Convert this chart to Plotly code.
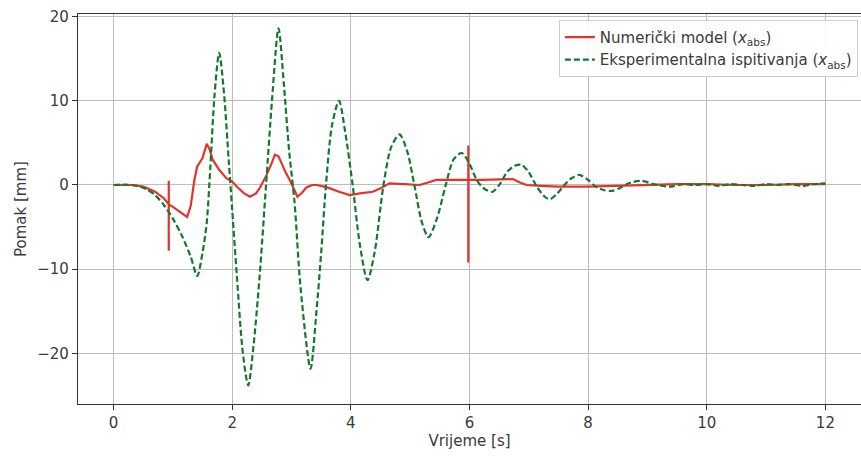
import plotly.graph_objects as go

# Numerical model (red)
t_num = [0, 0.3, 0.5, 0.7, 0.85, 0.93, 0.93, 0.93, 0.93, 1.0, 1.1, 1.24, 1.3, 1.36, 1.41, 1.5, 1.57, 1.62,
         1.67, 1.78, 1.9, 2.0, 2.08, 2.2, 2.3, 2.4, 2.47, 2.58, 2.66, 2.72, 2.78, 2.83, 2.9, 2.97, 3.05,
         3.1, 3.18, 3.25, 3.35, 3.42, 3.55, 3.65, 3.8, 3.98, 4.15, 4.37, 4.5, 4.65, 4.9, 5.16, 5.3, 5.44,
         5.7, 5.98, 5.98, 5.98, 5.98, 6.2, 6.5, 6.73, 6.85, 6.96, 7.2, 7.5, 8.0, 8.5, 9.0, 9.5, 10.0,
         10.5, 11.0, 11.5, 12.0]
y_num = [0, 0, -0.2, -0.8, -1.6, -2.3, 0.5, -7.8, -2.3, -2.6, -3.1, -3.8, -2.5, 0.5, 2.2, 3.2, 4.9, 4.2,
         3.0, 1.8, 0.8, 0.4, -0.2, -1.0, -1.4, -1.0, -0.3, 1.2, 2.5, 3.6, 3.4, 2.6, 1.5, 0.6, -0.6,
         -1.4, -0.9, -0.3, 0.0, 0.0, -0.2, -0.4, -0.8, -1.2, -1.0, -0.8, -0.4, 0.2, 0.1, 0.0, 0.3, 0.6,
         0.6, 0.6, 4.7, -9.2, 0.6, 0.6, 0.7, 0.7, 0.3, 0.0, -0.1, -0.2, -0.2, -0.1, 0.0, 0.1, 0.1,
         0.0, 0.0, 0.1, 0.1]

# Experimental (green, dashed)
t_exp = [0, 0.2, 0.4, 0.55, 0.7, 0.85, 1.0, 1.15, 1.3, 1.41, 1.5, 1.57, 1.63, 1.7, 1.78, 1.86, 1.94,
         2.0, 2.08, 2.18, 2.27, 2.36, 2.46, 2.57, 2.67, 2.78, 2.87, 2.96, 3.05, 3.15, 3.32, 3.42, 3.5,
         3.58, 3.68, 3.8, 3.9, 4.03, 4.15, 4.28, 4.4, 4.55, 4.68, 4.82, 4.95, 5.07, 5.2, 5.31, 5.45,
         5.6, 5.73, 5.87, 6.0, 6.13, 6.26, 6.39, 6.52, 6.64, 6.77, 6.88, 7.0, 7.12, 7.24, 7.35, 7.48,
         7.6, 7.72, 7.85, 8.0, 8.13, 8.26, 8.41, 8.55, 8.68, 8.9, 9.1, 9.37, 9.6, 9.8, 10.0, 10.2,
         10.4, 10.6, 10.8, 11.0, 11.2, 11.4, 11.6, 11.8, 12.0]
y_exp = [0, 0.05, -0.1, -0.5, -1.2, -2.4, -4.0, -6.0, -8.5, -10.8, -8.0, -4.5, 2.0, 10.5, 15.7, 11.0, 3.0,
         -3.0, -11.0, -20.0, -23.8, -19.0, -11.0, 0.0, 10.0, 18.6, 12.0, 4.0, -2.0, -12.0, -21.8, -15.0, -8.0,
         0.0, 7.0, 10.0, 6.5, 0.0, -7.0, -11.3, -8.0, 0.0, 4.5, 6.0, 4.0, 0.0, -4.5, -6.2, -4.0,
         0.0, 3.0, 3.8, 2.5, 0.5, -0.5, -0.8, 0.2, 1.6, 2.3, 2.4, 1.5, 0.0, -1.2, -1.7, -1.0,
         0.0, 0.8, 1.2, 0.6, -0.2, -0.6, -0.7, -0.3, 0.2, 0.5, 0.1, -0.2, 0.1, 0.0, 0.1, -0.1,
         0.1, 0.0, -0.1, 0.1, 0.0, 0.1, -0.1, 0.1, 0.2]

x_ticks = [0, 2, 4, 6, 8, 10, 12]
y_ticks = [-20, -10, 0, 10, 20]

FONT = "DejaVu Sans"
TXT = "#3a3a3a"

fig = go.Figure()
fig.add_trace(go.Scatter(x=t_num, y=y_num, mode="lines",
                         name="Numerički model (<i>x</i><sub>abs</sub>)",
                         line=dict(color="#e3342c", width=2.2)))
fig.add_trace(go.Scatter(x=t_exp, y=y_exp, mode="lines",
                         name="Eksperimentalna ispitivanja (<i>x</i><sub>abs</sub>)",
                         line=dict(color="#14782e", width=2.2, dash="6px,3px", shape="spline", smoothing=0.8)))

axis_common = dict(showgrid=True, gridcolor="#bdbdbd", gridwidth=1, zeroline=False,
                   showline=True, linecolor="#333333", linewidth=1.3, mirror=True,
                   ticks="outside", ticklen=5, tickcolor="#333333",
                   tickfont=dict(family=FONT, size=15, color=TXT))

fig.update_xaxes(range=[-0.6, 12.6], tickvals=x_ticks,
                 title=dict(text="Vrijeme [s]", font=dict(family=FONT, size=15, color=TXT), standoff=4),
                 **axis_common)
fig.update_yaxes(range=[-26.0, 20.3], tickvals=y_ticks,
                 title=dict(text="Pomak [mm]", font=dict(family=FONT, size=15, color=TXT), standoff=6),
                 **axis_common)

fig.update_layout(
    width=861, height=456,
    margin=dict(l=78, r=0, t=14, b=52),
    plot_bgcolor="white", paper_bgcolor="white",
    font=dict(family=FONT, size=15, color=TXT),
    legend=dict(x=0.996, y=0.985, xanchor="right", yanchor="top",
                bgcolor="rgba(255,255,255,0.9)", bordercolor="#cccccc", borderwidth=1,
                font=dict(family=FONT, size=15, color=TXT),
                tracegroupgap=0, itemwidth=30),
    showlegend=True,
)

fig.write_html("out.html")
